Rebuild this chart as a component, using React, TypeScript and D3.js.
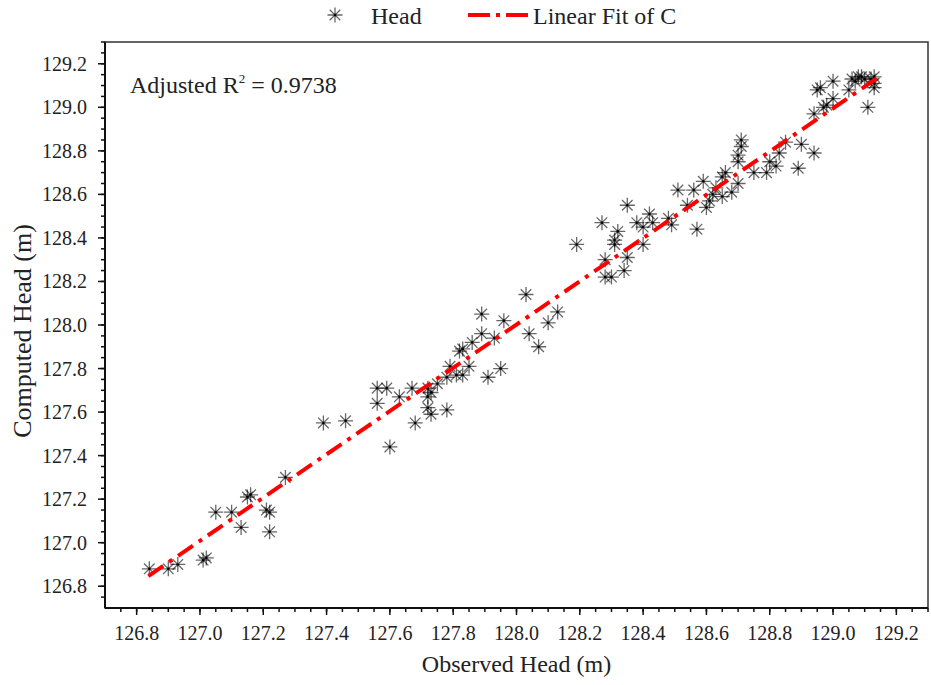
import React from "react";
import * as d3 from "d3";

const OBS_X = [
  126.84, 126.9, 126.93, 127.02, 127.01, 127.05, 127.1, 127.13, 127.15, 127.16,
  127.21, 127.22, 127.22, 127.27, 127.39, 127.46, 127.6, 127.56, 127.59, 127.56,
  127.63, 127.67, 127.68, 127.72, 127.72, 127.73, 127.72, 127.73, 127.78, 127.75,
  127.78, 127.79, 127.81, 127.83, 127.85, 127.82, 127.83, 127.86, 127.89, 127.89,
  127.91, 127.95, 127.93, 127.96, 128.03, 128.04, 128.07, 128.1, 128.13, 128.19,
  128.28, 128.28, 128.3, 128.27, 128.31, 128.31, 128.32, 128.35, 128.34, 128.35,
  128.38, 128.4, 128.4, 128.42, 128.43, 128.49, 128.48, 128.51, 128.54, 128.56,
  128.57, 128.59, 128.6, 128.61, 128.62, 128.63, 128.65, 128.65, 128.66, 128.68,
  128.7, 128.7, 128.7, 128.71, 128.71, 128.75, 128.79, 128.8, 128.82, 128.83,
  128.85, 128.89, 128.9, 128.94, 128.94, 128.96, 129.0, 129.0, 128.98, 128.97,
  129.05, 129.08, 129.09, 129.1, 129.12, 129.13, 129.13, 129.13, 129.11, 129.07,
  129.06, 128.95,
];
const COMP_Y = [
  126.88, 126.88, 126.9, 126.93, 126.92, 127.14, 127.14, 127.07, 127.21, 127.22,
  127.15, 127.14, 127.05, 127.3, 127.55, 127.56, 127.44, 127.71, 127.71, 127.64,
  127.67, 127.71, 127.55, 127.71, 127.67, 127.69, 127.62, 127.59, 127.61, 127.73,
  127.76, 127.81, 127.77, 127.77, 127.81, 127.88, 127.89, 127.92, 127.96, 128.05,
  127.76, 127.8, 127.94, 128.02, 128.14, 127.96, 127.9, 128.01, 128.06, 128.37,
  128.3, 128.22, 128.22, 128.47, 128.37, 128.39, 128.43, 128.31, 128.25, 128.55,
  128.47, 128.37, 128.45, 128.51, 128.47, 128.46, 128.49, 128.62, 128.55, 128.62,
  128.44, 128.66, 128.54, 128.57, 128.6, 128.63, 128.68, 128.59, 128.7, 128.61,
  128.65, 128.75, 128.78, 128.82, 128.85, 128.7, 128.7, 128.75, 128.73, 128.79,
  128.84, 128.72, 128.83, 128.79, 128.97, 129.09, 129.12, 129.04, 129.01, 129.0,
  129.08, 129.14, 129.14, 129.13, 129.13, 129.14, 129.11, 129.09, 129.0, 129.12,
  129.13, 129.08,
];

const X_TICKS = [126.8, 127.0, 127.2, 127.4, 127.6, 127.8, 128.0, 128.2, 128.4, 128.6, 128.8, 129.0, 129.2];
const Y_TICKS = [126.8, 127.0, 127.2, 127.4, 127.6, 127.8, 128.0, 128.2, 128.4, 128.6, 128.8, 129.0, 129.2];
const FIT_RANGE = [126.837, 129.138];
const FIT_SLOPE = 0.9935;
const FIT_INTERCEPT = 0.834;
const R2_TEXT = "0.9738";

const W = 931;
const H = 685;
const M = { left: 105, right: 3, top: 42, bottom: 77 };
const FONT = "'Liberation Serif', 'Times New Roman', serif";

function starPath(r: number) {
  let p = "";
  for (let i = 0; i < 4; i++) {
    const a = (i * Math.PI) / 4;
    const dx = r * Math.cos(a);
    const dy = r * Math.sin(a);
    p += `M${-dx},${-dy}L${dx},${dy}`;
  }
  return p;
}

export default function App() {
  const x = d3.scaleLinear().domain([126.7, 129.3]).range([M.left, W - M.right]);
  const y = d3.scaleLinear().domain([126.7, 129.3]).range([H - M.bottom, M.top]);
  const x0 = M.left;
  const x1 = W - M.right;
  const y0 = H - M.bottom;
  const y1 = M.top;
  const minorX = d3.range(126.75, 129.3, 0.05).map((v) => +v.toFixed(2));
  const minorY = minorX;
  const star = starPath(7.5);
  const fitLine = d3
    .line<number>()
    .x((d) => x(d))
    .y((d) => y(FIT_INTERCEPT + FIT_SLOPE * d));
  const dash = "18,7,4,7";

  return (
    <svg width={W} height={H} style={{ position: "absolute", left: 0, top: 0, background: "#fff" }} fontFamily={FONT}>
      <rect x={0} y={0} width={W} height={H} fill="#fff" />
      <rect x={x0} y={y1} width={x1 - x0} height={y0 - y1} fill="none" stroke="#333" strokeWidth={1.5} />
      <line x1={x0} x2={x1} y1={y0} y2={y0} stroke="#111" strokeWidth={2} />
      <line x1={x0} x2={x0} y1={y0} y2={y1} stroke="#111" strokeWidth={2} />
      {minorX.map((v, i) => (
        <line key={"mx" + i} x1={x(v)} x2={x(v)} y1={y0} y2={y0 + 4} stroke="#111" strokeWidth={1.5} />
      ))}
      {minorY.map((v, i) => (
        <line key={"my" + i} x1={x0} x2={x0 - 4} y1={y(v)} y2={y(v)} stroke="#111" strokeWidth={1.5} />
      ))}
      {X_TICKS.map((v) => (
        <g key={"xt" + v}>
          <line x1={x(v)} x2={x(v)} y1={y0} y2={y0 + 7} stroke="#111" strokeWidth={1.5} />
          <text x={x(v)} y={y0 + 32} textAnchor="middle" fontSize={20} fill="#222">
            {v.toFixed(1)}
          </text>
        </g>
      ))}
      {Y_TICKS.map((v) => (
        <g key={"yt" + v}>
          <line x1={x0} x2={x0 - 7} y1={y(v)} y2={y(v)} stroke="#111" strokeWidth={1.5} />
          <text x={x0 - 18} y={y(v) + 7} textAnchor="end" fontSize={20} fill="#222">
            {v.toFixed(1)}
          </text>
        </g>
      ))}
      <text x={(x0 + x1) / 2} y={672} textAnchor="middle" fontSize={24} fill="#222">
        Observed Head (m)
      </text>
      <text transform={`translate(31,${(y0 + y1) / 2 + 6}) rotate(-90)`} textAnchor="middle" fontSize={26} fill="#222">
        Computed Head (m)
      </text>
      <g>
        {OBS_X.map((v, i) => (
          <g key={"p" + i} transform={`translate(${x(v)},${y(COMP_Y[i])})`}>
            <path d={star} stroke="#000" strokeOpacity={0.6} strokeWidth={1.3} fill="none" />
            <circle r={1.3} fill="#000" />
          </g>
        ))}
      </g>
      <path d={fitLine(FIT_RANGE) || ""} stroke="#ff0000" strokeWidth={4} fill="none" strokeDasharray={dash} />
      <text x={130} y={93} fontSize={24} fill="#222">
        Adjusted R<tspan dy={-10} fontSize={13}>2</tspan>
        <tspan dy={10}> = {R2_TEXT}</tspan>
      </text>
      <g transform="translate(335,15)">
        <path d={star} stroke="#000" strokeOpacity={0.6} strokeWidth={1.3} fill="none" />
        <circle r={1.3} fill="#000" />
      </g>
      <text x={371} y={24} fontSize={24} fill="#222">
        Head
      </text>
      <line x1={468} x2={528} y1={15} y2={15} stroke="#ff0000" strokeWidth={4} strokeDasharray="22,6,4,6" />
      <text x={533} y={24} fontSize={24} fill="#222">
        Linear Fit of C
      </text>
    </svg>
  );
}
